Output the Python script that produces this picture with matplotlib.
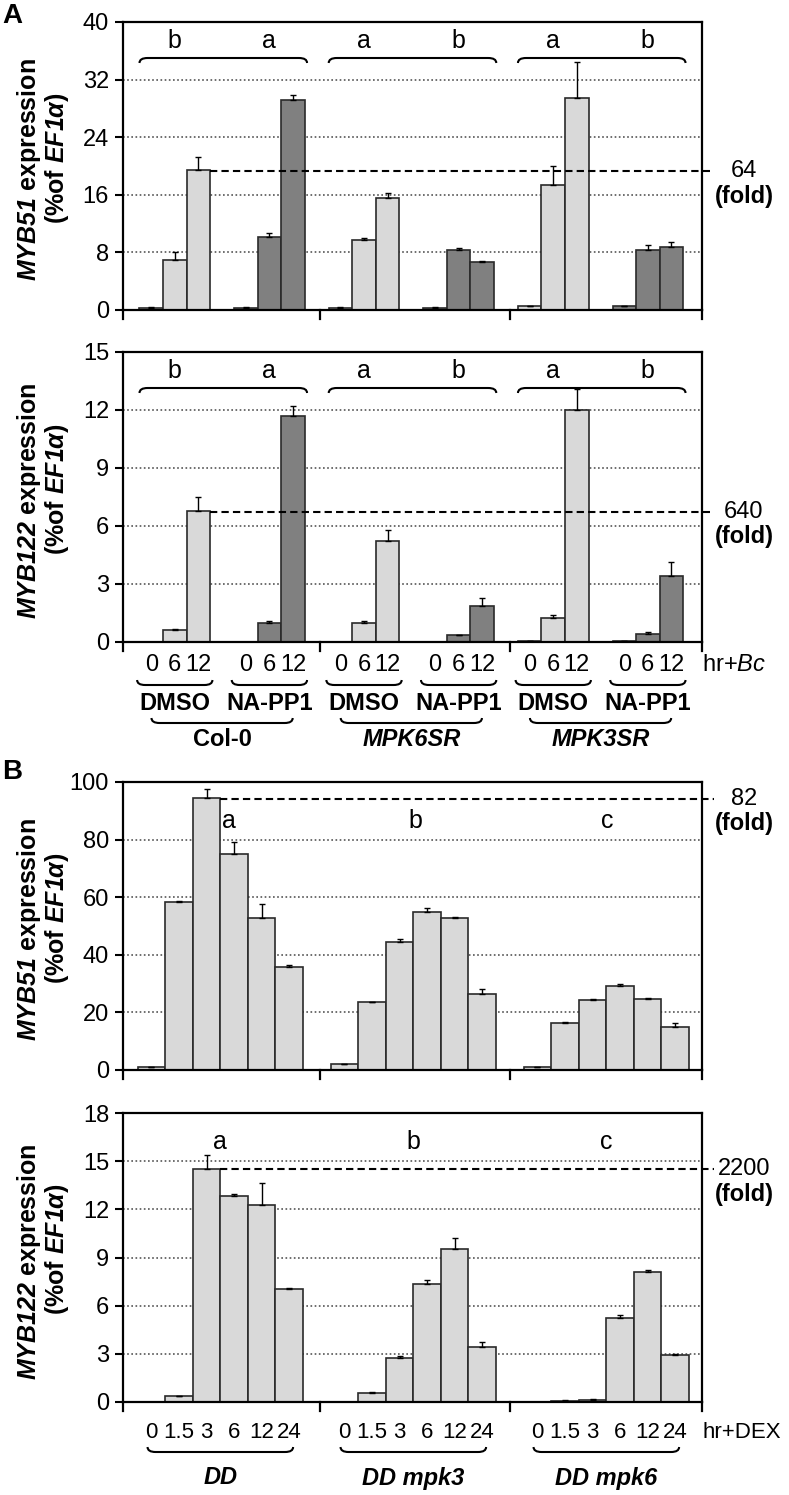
import numpy as np
import matplotlib.pyplot as plt
from matplotlib.path import Path
from matplotlib.patches import PathPatch
from matplotlib.transforms import blended_transform_factory

plt.rcParams['font.family'] = ['Liberation Sans', 'DejaVu Sans']
plt.rcParams['mathtext.fontset'] = 'custom'
plt.rcParams['mathtext.rm'] = 'Liberation Sans'
plt.rcParams['mathtext.it'] = 'Liberation Sans:italic'
plt.rcParams['mathtext.bf'] = 'Liberation Sans:bold'
plt.rcParams['mathtext.bfit'] = 'Liberation Sans:italic:bold'

# ---- data, panel A ----
a_hours = ['0', '6', '12']
a_treat = ['DMSO', 'NA-PP1', 'DMSO', 'NA-PP1', 'DMSO', 'NA-PP1']
a_lines = ['Col-0', 'MPK6SR', 'MPK3SR']
a_myb51 = [[0.3, 6.9, 19.5], [0.3, 10.1, 29.1], [0.3, 9.7, 15.5],
           [0.3, 8.3, 6.6], [0.5, 17.4, 29.5], [0.5, 8.4, 8.7]]
a_myb51_err = [[0.05, 1.1, 1.7], [0.05, 0.6, 0.7], [0.1, 0.3, 0.8],
               [0.1, 0.3, 0.2], [0.05, 2.6, 4.9], [0.05, 0.6, 0.7]]
a_myb122 = [[0.02, 0.6, 6.8], [0.02, 1.0, 11.7], [0.02, 1.0, 5.2],
            [0.02, 0.36, 1.85], [0.05, 1.23, 12.0], [0.05, 0.43, 3.42]]
a_myb122_err = [[0, 0.08, 0.7], [0, 0.07, 0.5], [0, 0.07, 0.6],
                [0, 0.02, 0.45], [0, 0.15, 1.1], [0, 0.07, 0.7]]
a_letters = ['b', 'a', 'a', 'b', 'a', 'b']
a_fold = ['64', '640']
a_fold_level = [19.3, 6.75]

# ---- data, panel B ----
b_hours = ['0', '1.5', '3', '6', '12', '24']
b_lines = ['DD', 'DD mpk3', 'DD mpk6']
b_myb51 = [[1.0, 58.5, 94.5, 75.0, 52.8, 35.9],
           [2.0, 23.5, 44.3, 54.8, 52.8, 26.5],
           [1.0, 16.3, 24.4, 29.3, 24.7, 15.1]]
b_myb51_err = [[0, 0.3, 3.1, 4.1, 4.9, 0.4],
               [0, 0.2, 1.1, 1.4, 0.4, 1.5],
               [0, 0.2, 0.4, 0.7, 0.4, 1.3]]
b_myb122 = [[0, 0.38, 14.5, 12.8, 12.3, 7.05],
            [0, 0.56, 2.76, 7.37, 9.53, 3.4],
            [0, 0.08, 0.15, 5.25, 8.1, 2.9]]
b_myb122_err = [[0, 0.02, 0.9, 0.16, 1.35, 0.07],
                [0, 0.08, 0.1, 0.25, 0.66, 0.34],
                [0, 0.02, 0.06, 0.17, 0.14, 0.06]]
b_letters = ['a', 'b', 'c']
b_letter_x = [3.85, 10.6, 17.55]
b_fold = ['82', '2200']
b_fold_level = [94.2, 14.5]

W, H = 789, 1495
LIGHT, DARK, EDGE = '#d9d9d9', '#808080', '#2a2a2a'

fig = plt.figure(figsize=(W / 100, H / 100), dpi=100)


def fy(py):
    return 1 - py / H


def make_ax(top, bottom):
    return fig.add_axes([123 / W, 1 - bottom / H, 579 / W, (bottom - top) / H])


def style(ax, ymax, step, nx):
    ticks = np.arange(0, ymax + step / 2, step)
    ax.set_xlim(0, nx)
    ax.set_ylim(0, ymax)
    ax.set_yticks(ticks)
    ax.set_yticklabels([f'{t:g}' for t in ticks])
    ax.set_xticks([])
    for t in ticks[1:-1]:
        ax.axhline(t, ls=(0, (1, 1.5)), color='#555555', lw=1.2, zorder=0)
    for s in ax.spines.values():
        s.set_linewidth(1.6)
    ax.tick_params(axis='y', length=6, width=1.5, labelsize=17, pad=4)
    for fx in [0, 0.34, 0.668, 1]:
        ax.plot([fx, fx], [0, -0.032], transform=ax.transAxes, clip_on=False,
                color='k', lw=1.6)


def brace(ax, x0, x1, py, sign, h_end=5, d_px=8):
    # curly bracket drawn as a flat line with hooked ends
    tr = blended_transform_factory(ax.transData, fig.transFigure)
    nx = ax.get_xlim()[1]
    d = d_px / (579 / nx)
    yl = fy(py)
    e1 = sign * h_end / H
    verts = [(x0, yl - e1), (x0, yl), (x0 + d, yl), (x1 - d, yl), (x1, yl),
             (x1, yl - e1)]
    codes = [Path.MOVETO, Path.CURVE3, Path.CURVE3, Path.LINETO, Path.CURVE3,
             Path.CURVE3]
    fig.add_artist(PathPatch(Path(verts, codes), transform=tr, fill=False,
                             lw=1.5, color='k'))


def ftext(ax, x, py, s, **kw):
    tr = blended_transform_factory(ax.transData, fig.transFigure)
    ax.text(x, fy(py), s, transform=tr, ha='center', va='center',
            clip_on=False, **kw)


def fold_label(ax, level, s, x0, nx):
    ax.plot([x0, 1.02 * nx], [level, level], color='k', lw=1.5,
            dashes=(3.5, 2), clip_on=False, zorder=3)
    tr = blended_transform_factory(ax.transAxes, ax.transData)
    ax.annotate(s, xy=(1.0725, level), xycoords=tr, ha='center', va='center',
                fontsize=17, annotation_clip=False)
    ax.annotate('(fold)', xy=(1.0725, level), xycoords=tr, xytext=(0, -18),
                textcoords='offset points', ha='center', va='center',
                fontsize=17, fontweight='bold', annotation_clip=False)


def ylabel(top, bottom, gene):
    c = (top + bottom) / 2
    fig.text(29 / W, fy(c + 4), r'$\mathbfit{' + gene + '}$ expression',
             rotation=90, ha='center', va='center', fontsize=18,
             fontweight='bold')
    fig.text(57 / W, fy(c - 8), r'(%of $\mathbfit{EF1α}$)', rotation=90,
             ha='center', va='center', fontsize=18, fontweight='bold')


# ---------------- panel A ----------------
A_NX = 24.6
a_start = [0.7 + 4.02 * k for k in range(6)]
a_panels = [(22, 310, a_myb51, a_myb51_err, 40, 8, 'MYB51'),
            (352, 642, a_myb122, a_myb122_err, 15, 3, 'MYB122')]

for p, (top, bottom, vals, errs, ymax, step, gene) in enumerate(a_panels):
    ax = make_ax(top, bottom)
    for k in range(6):
        xs = np.array([a_start[k] + i + 0.5 for i in range(3)])
        col = LIGHT if k % 2 == 0 else DARK
        ax.bar(xs, vals[k], width=1, color=col, edgecolor=EDGE, lw=1.2,
               zorder=2)
        e = np.array(errs[k])
        ax.errorbar(xs, vals[k], yerr=[np.zeros(3), e], fmt='none',
                    ecolor='k', elinewidth=1, capsize=2.5, capthick=1,
                    zorder=3)
        ftext(ax, a_start[k] + 1.5, top + 19, a_letters[k], fontsize=18)
    for j in range(3):
        brace(ax, a_start[2 * j], a_start[2 * j + 1] + 3.1, top + 36, 1)
    fold_label(ax, a_fold_level[p], a_fold[p], a_start[0] + 3, A_NX)
    style(ax, ymax, step, A_NX)
    ylabel(top, bottom, gene)
    if p == 1:
        for k in range(6):
            for i in range(3):
                ftext(ax, a_start[k] + i + 0.5, bottom + 23, a_hours[i],
                      fontsize=17)
            brace(ax, a_start[k] - 0.1, a_start[k] + 3.1, bottom + 43, -1)
            ftext(ax, a_start[k] + 1.5, bottom + 61, a_treat[k],
                  fontsize=17, fontweight='bold')
        for j in range(3):
            mid = (a_start[2 * j] + a_start[2 * j + 1] + 3) / 2
            brace(ax, mid - 3.0, mid + 3.0, bottom + 81, -1)
            ftext(ax, mid, bottom + 98, a_lines[j], fontsize=17,
                  fontweight='bold', style='normal' if j == 0 else 'italic')
        ax.text(1.0, fy(bottom + 23), r'hr+$\mathit{Bc}$', fontsize=17,
                transform=blended_transform_factory(ax.transAxes,
                                                    fig.transFigure),
                ha='left', va='center', clip_on=False)

# ---------------- panel B ----------------
B_NX = 21.0
b_start = [0.53 + 7.0 * k for k in range(3)]
b_panels = [(782, 1070, b_myb51, b_myb51_err, 100, 20, 'MYB51', 86.5),
            (1113, 1402, b_myb122, b_myb122_err, 18, 3, 'MYB122', 16.2)]

for p, (top, bottom, vals, errs, ymax, step, gene, ly) in enumerate(b_panels):
    ax = make_ax(top, bottom)
    for k in range(3):
        xs = np.array([b_start[k] + i + 0.5 for i in range(6)])
        ax.bar(xs, vals[k], width=1, color=LIGHT, edgecolor=EDGE, lw=1.2,
               zorder=2)
        e = np.array(errs[k])
        ax.errorbar(xs, vals[k], yerr=[np.zeros(6), e], fmt='none',
                    ecolor='k', elinewidth=1, capsize=2.5, capthick=1,
                    zorder=3)
        lx = b_letter_x[k] if p == 0 else b_start[k] + 3
        ax.text(lx, ly, b_letters[k], fontsize=18, ha='center', va='center')
    fold_label(ax, b_fold_level[p], b_fold[p], b_start[0] + 3, B_NX)
    style(ax, ymax, step, B_NX)
    ylabel(top, bottom, gene)
    if p == 1:
        for k in range(3):
            for i in range(6):
                ftext(ax, b_start[k] + i + 0.5, bottom + 30, b_hours[i],
                      fontsize=16)
            brace(ax, b_start[k] + 0.36, b_start[k] + 5.64, bottom + 50, -1)
            ftext(ax, b_start[k] + 3, bottom + 76, b_lines[k], fontsize=17,
                  fontweight='bold', style='italic')
        ax.text(1.0, fy(bottom + 30), 'hr+DEX', fontsize=16,
                transform=blended_transform_factory(ax.transAxes,
                                                    fig.transFigure),
                ha='left', va='center', clip_on=False)

fig.text(2 / W, fy(16), 'A', fontsize=20, fontweight='bold', va='center')
fig.text(2 / W, fy(772), 'B', fontsize=20, fontweight='bold', va='center')

fig.savefig('out.png', dpi=100)
